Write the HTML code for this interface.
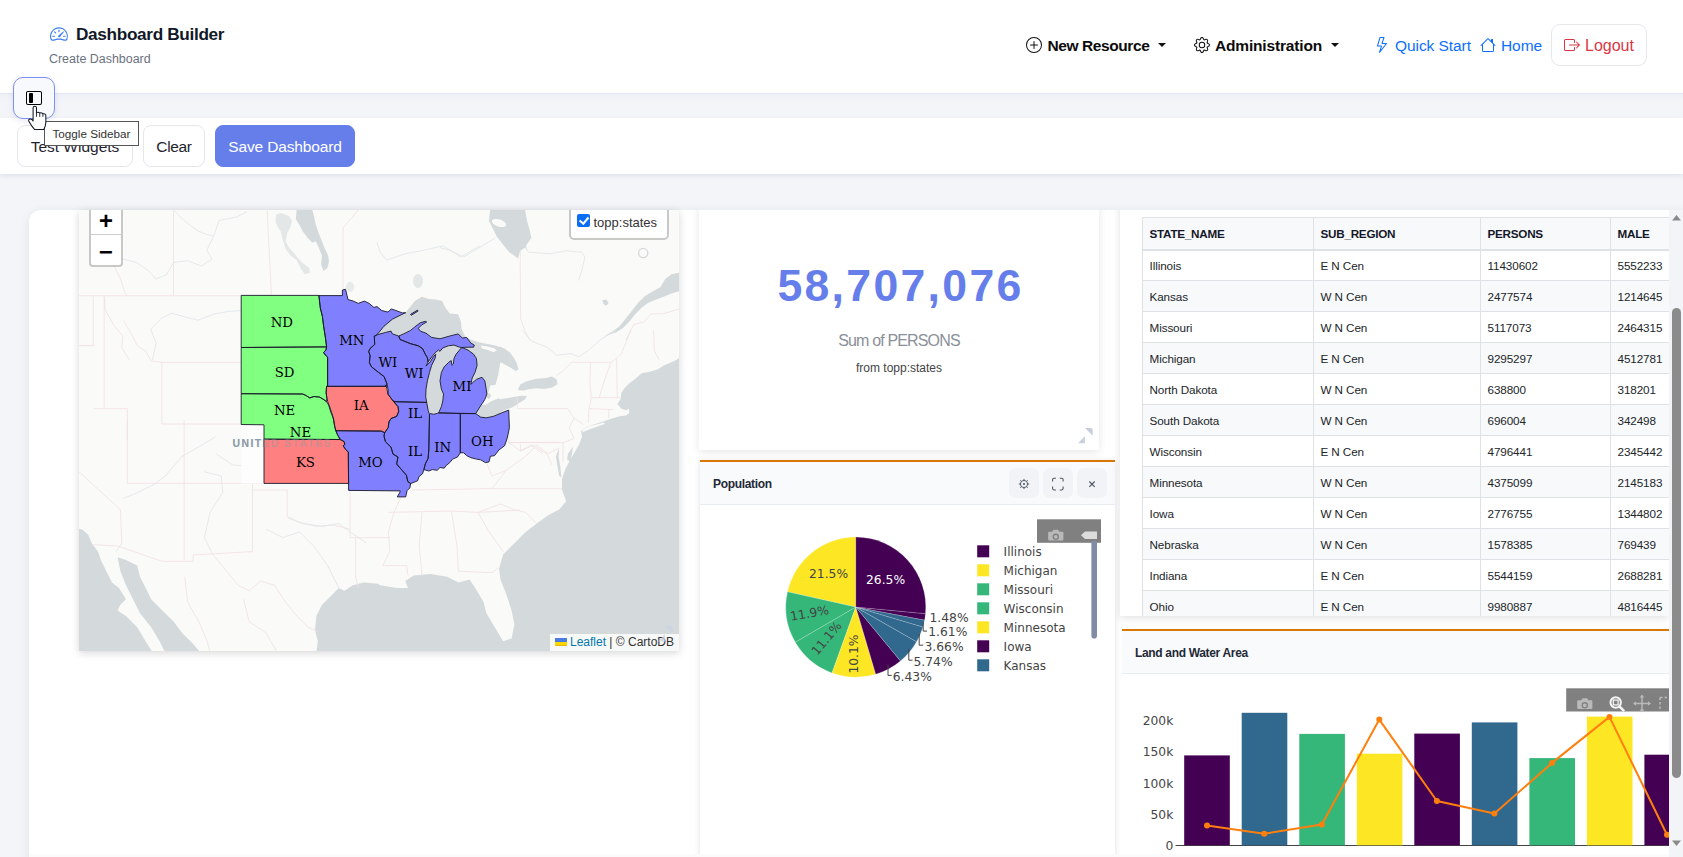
<!DOCTYPE html>
<html lang="en">
<head>
<meta charset="utf-8">
<title>Dashboard Builder</title>
<style>
*{box-sizing:border-box;margin:0;padding:0}
html,body{width:1683px;height:857px;overflow:hidden}
body{position:relative;background:#f4f5f9;font-family:"Liberation Sans",sans-serif;color:#212529;font-size:16px}
.abs{position:absolute}
svg{display:block;overflow:visible}
/* header */
#hdr{position:absolute;left:0;top:0;width:1683px;height:94px;background:#fff;border-bottom:1px solid #e3e7f5}
#band{position:absolute;left:0;top:94px;width:1683px;height:24px;background:linear-gradient(#eef0f6,#f4f5f9 8px)}
#title{position:absolute;left:76px;top:23px;font-size:17.2px;font-weight:700;color:#111827;white-space:nowrap;letter-spacing:-.33px;line-height:22px}
#subtitle{position:absolute;left:49px;top:51px;font-size:12.45px;color:#6b7280;white-space:nowrap;line-height:16px}
.nav{position:absolute;top:36px;line-height:20px;font-size:16px;white-space:nowrap}
.nav.b{font-weight:700;color:#0b0b0c;font-size:15.5px}
.nav.l{color:#0d6efd;font-size:15.5px;letter-spacing:-.07px}
.caret{position:absolute;top:43px;width:0;height:0;border-left:4px solid transparent;border-right:4px solid transparent;border-top:4.5px solid #111}
#logout{position:absolute;left:1551px;top:24px;width:96px;height:42px;border:1px solid #e5e7eb;border-radius:9px;background:#fff}
/* toggle */
#tog{position:absolute;left:13px;top:77px;width:42px;height:42px;border:1px solid #7d90f3;border-radius:10px;background:#f8f9fc;box-shadow:0 2px 6px rgba(60,70,120,.12)}
#tip{position:absolute;left:44px;top:121px;width:95px;height:25px;background:#fff;border:1px solid #555;font-size:11.7px;line-height:24px;padding-left:7.5px;color:#333;white-space:nowrap}
/* toolbar */
#tb{position:absolute;left:0;top:118px;width:1683px;height:56px;background:#fff;box-shadow:0 2px 5px rgba(30,40,80,.09)}
.btn{position:absolute;top:125px;height:42px;border:1px solid #e5e7eb;border-radius:8px;background:#fff;font-size:15.5px;line-height:42px;text-align:center;color:#1f2430;white-space:nowrap}
#save{left:215px;width:140px;background:#667eea;border-color:#667eea;color:#fff;letter-spacing:-.14px}
/* main container */
#main{position:absolute;left:29px;top:210px;width:1660px;height:660px;background:#fff;border-radius:12px 0 0 0;box-shadow:0 2px 12px rgba(0,0,0,.075)}
/*PCSS*/
#kpi{position:absolute;left:699px;top:200px;width:400px;height:250px;background:#fff;box-shadow:0 2px 8px rgba(0,0,0,.1);clip-path:inset(10px -20px -20px -20px)}
#kpinum{position:absolute;left:0;top:58px;width:400px;text-align:center;font-size:44.6px;font-weight:700;color:#667eea;letter-spacing:2.3px;line-height:56px;white-space:nowrap;text-indent:3px}
#kpilab{position:absolute;left:0;top:131px;width:400px;text-align:center;font-size:16px;color:#8a8f98;line-height:20px;white-space:nowrap;letter-spacing:-.85px}
#kpisrc{position:absolute;left:0;top:160px;width:400px;text-align:center;font-size:12px;color:#444;line-height:16px;white-space:nowrap}

#piep{position:absolute;left:700px;top:460px;width:415px;height:410px;background:#fff;border-top:2px solid #d97706;box-shadow:0 1px 6px rgba(0,0,0,.12)}
.phd{position:absolute;left:0;top:0;width:100%;height:43px;background:#f9fafb;border-bottom:1px solid #e9ecf0}
.phd span{position:absolute;left:13px;top:14px;font-size:12px;font-weight:700;color:#1f2937;line-height:16px;white-space:nowrap;letter-spacing:-.33px}
.pb{position:absolute;top:6px;width:30px;height:30px;border-radius:7px;background:#f1f3f6}

#tblp{position:absolute;left:1120px;top:200px;width:549px;height:416px;background:#fff;overflow:hidden;box-shadow:0 2px 8px rgba(0,0,0,.12);clip-path:inset(10px 0 -20px -20px)}
#tblp table{position:absolute;left:22px;top:17px;width:700px;border-collapse:collapse;table-layout:fixed;font-size:11.7px;color:#212529}
#tblp th{height:32px;background:#f8f9fa;border:1px solid #dee2e6;border-bottom:2px solid #dee2e6;text-align:left;padding:0 0 0 6.500px;font-weight:700;color:#15172a;letter-spacing:-.25px}
#tblp td{height:31px;border:1px solid #dee2e6;padding:1px 0 0 6.500px;white-space:nowrap;letter-spacing:-.1px}
#tblp tbody tr:nth-child(even) td{background:#f8f9fb}
#sb{position:absolute;left:1669px;top:210px;width:14px;height:647px;background:#f3f4f8}
#sb b{position:absolute;left:3px;top:98px;width:9px;height:470px;border-radius:5px;background:#8b8b8b}

#barp{position:absolute;left:1122px;top:629px;width:547px;height:240px;background:#fff;border-top:2px solid #d97706}
/*/PCSS*//*MAPCSS*/
#map{position:absolute;left:79px;top:210px;width:600px;height:441px;overflow:hidden;box-shadow:0 2px 8px rgba(0,0,0,.16);background:#fafaf8}
#mapshadow{position:absolute;left:79px;top:210px;width:600px;height:441px;box-shadow:0 2px 8px rgba(0,0,0,.2)}
.lf-zoom{position:absolute;left:10px;top:-8px;width:34px;height:65px;border:2px solid rgba(0,0,0,.2);border-radius:4px;background-clip:padding-box;background:#fff padding-box}
.lf-zoom span{position:absolute;left:0;width:30px;height:30px;text-align:center;font:bold 24px/37px "Liberation Mono",monospace;color:#000}
.lf-zoom i{position:absolute;left:0;top:30px;width:30px;height:1px;background:#ccc}
.lf-layers{position:absolute;left:490px;top:-6px;width:100px;height:36px;border:2px solid rgba(0,0,0,.2);border-radius:5px;background:#fff padding-box}
.lf-layers b{position:absolute;left:6px;top:8px;width:13px;height:13px;border-radius:2px;background:#0b6cf5}
.lf-layers b:after{content:"";position:absolute;left:4.2px;top:.6px;width:3.6px;height:7.4px;border:solid #fff;border-width:0 2px 2px 0;transform:rotate(40deg)}
.lf-layers span{position:absolute;left:22.5px;top:8.5px;font-size:13px;line-height:15px;color:#333;white-space:nowrap}
.lf-attr{position:absolute;right:0;bottom:0;height:17px;padding:0 5px;background:rgba(255,255,255,.8);font-size:12px;line-height:17px;color:#333;white-space:nowrap}
/*/MAPCSS*/</style>
</head>
<body>
<div id="hdr"></div>
<div id="band"></div>
<div id="title">Dashboard Builder</div>
<div id="subtitle">Create Dashboard</div>

<div class="nav b" style="left:1047.5px;letter-spacing:-.41px">New Resource</div>
<div class="caret" style="left:1158px"></div>
<div class="nav b" style="left:1215px;letter-spacing:-.17px">Administration</div>
<div class="caret" style="left:1331px"></div>
<div class="nav l" style="left:1395px">Quick Start</div>
<div class="nav l" style="left:1501px">Home</div>
<div id="logout"></div>
<div class="nav" style="left:1585px;color:#dc3545">Logout</div>


<svg class="abs" style="left:49.7px;top:25px" width="18" height="18" viewBox="0 0 16 16" fill="#3b7cf2"><path d="M8 4a.5.5 0 0 1 .5.5V6a.5.5 0 0 1-1 0V4.5A.5.5 0 0 1 8 4zM3.732 5.732a.5.5 0 0 1 .707 0l.915.914a.5.5 0 1 1-.708.708l-.914-.915a.5.5 0 0 1 0-.707zM2 10a.5.5 0 0 1 .5-.5h1.586a.5.5 0 0 1 0 1H2.5A.5.5 0 0 1 2 10zm9.5 0a.5.5 0 0 1 .5-.5h1.5a.5.5 0 0 1 0 1H12a.5.5 0 0 1-.5-.5zm.754-4.246a.389.389 0 0 0-.527-.02L7.547 9.31a.91.91 0 1 0 1.302 1.258l3.434-4.297a.389.389 0 0 0-.029-.518z"/><path fill-rule="evenodd" d="M0 10a8 8 0 1 1 15.547 2.661c-.442 1.253-1.845 1.602-2.932 1.25C11.309 13.488 9.475 13 8 13c-1.474 0-3.31.488-4.615.911-1.087.352-2.49.003-2.932-1.25A7.988 7.988 0 0 1 0 10zm8-7a7 7 0 0 0-6.603 9.329c.203.575.923.876 1.68.63C4.397 12.533 6.358 12 8 12s3.604.532 4.923.96c.757.245 1.477-.056 1.68-.631A7 7 0 0 0 8 3z"/></svg>
<svg class="abs" style="left:1026px;top:37px" width="16" height="16" viewBox="0 0 16 16" fill="#111"><path d="M8 15A7 7 0 1 1 8 1a7 7 0 0 1 0 14zm0 1A8 8 0 1 0 8 0a8 8 0 0 0 0 16z"/><path d="M8 4a.5.5 0 0 1 .5.5v3h3a.5.5 0 0 1 0 1h-3v3a.5.5 0 0 1-1 0v-3h-3a.5.5 0 0 1 0-1h3v-3A.5.5 0 0 1 8 4z"/></svg>
<svg class="abs" style="left:1194px;top:37px" width="16" height="16" viewBox="0 0 16 16" fill="#111"><path d="M8 4.754a3.246 3.246 0 1 0 0 6.492 3.246 3.246 0 0 0 0-6.492zM5.754 8a2.246 2.246 0 1 1 4.492 0 2.246 2.246 0 0 1-4.492 0z"/><path d="M9.796 1.343c-.527-1.79-3.065-1.79-3.592 0l-.094.319a.873.873 0 0 1-1.255.52l-.292-.16c-1.64-.892-3.433.902-2.54 2.541l.159.292a.873.873 0 0 1-.52 1.255l-.319.094c-1.79.527-1.79 3.065 0 3.592l.319.094a.873.873 0 0 1 .52 1.255l-.16.292c-.892 1.64.901 3.434 2.541 2.54l.292-.159a.873.873 0 0 1 1.255.52l.094.319c.527 1.79 3.065 1.79 3.592 0l.094-.319a.873.873 0 0 1 1.255-.52l.292.16c1.64.893 3.434-.902 2.54-2.541l-.159-.292a.873.873 0 0 1 .52-1.255l.319-.094c1.79-.527 1.79-3.065 0-3.592l-.319-.094a.873.873 0 0 1-.52-1.255l.16-.292c.893-1.64-.902-3.433-2.541-2.54l-.292.159a.873.873 0 0 1-1.255-.52l-.094-.319zm-2.633.283c.246-.835 1.428-.835 1.674 0l.094.319a1.873 1.873 0 0 0 2.693 1.115l.291-.16c.764-.415 1.6.42 1.184 1.185l-.159.292a1.873 1.873 0 0 0 1.116 2.692l.318.094c.835.246.835 1.428 0 1.674l-.319.094a1.873 1.873 0 0 0-1.115 2.693l.16.291c.415.764-.42 1.6-1.185 1.184l-.291-.159a1.873 1.873 0 0 0-2.693 1.116l-.094.318c-.246.835-1.428.835-1.674 0l-.094-.319a1.873 1.873 0 0 0-2.692-1.115l-.292.16c-.764.415-1.6-.42-1.184-1.185l.159-.291A1.873 1.873 0 0 0 1.945 8.93l-.319-.094c-.835-.246-.835-1.428 0-1.674l.319-.094A1.873 1.873 0 0 0 3.06 4.377l-.16-.292c-.415-.764.42-1.6 1.185-1.184l.292.159a1.873 1.873 0 0 0 2.692-1.115l.094-.319z"/></svg>
<svg class="abs" style="left:1374px;top:37px" width="16" height="16" viewBox="0 0 16 16" fill="#0d6efd"><path d="M5.52.359A.5.5 0 0 1 6 0h4a.5.5 0 0 1 .474.658L8.694 6H12.5a.5.5 0 0 1 .395.807l-7 9a.5.5 0 0 1-.873-.454L6.823 9.5H3.5a.5.5 0 0 1-.48-.641l2.5-8.5zM6.374 1 4.168 8.500H7.5a.5.5 0 0 1 .478.647L6.780 13.040 11.478 7H8a.5.5 0 0 1-.474-.658L9.306 1H6.374z"/></svg>
<svg class="abs" style="left:1480px;top:37px" width="16" height="16" viewBox="0 0 16 16" fill="#0d6efd"><path d="M8.707 1.5a1 1 0 0 0-1.414 0L.646 8.146a.5.5 0 0 0 .708.708L2 8.207V13.5A1.500 1.500 0 0 0 3.500 15h9a1.500 1.500 0 0 0 1.500-1.500V8.207l.646.647a.5.5 0 0 0 .708-.708L13 5.793V2.500a.5.5 0 0 0-.5-.5h-1a.5.5 0 0 0-.5.5v1.293L8.707 1.500ZM13 7.207V13.500a.5.5 0 0 1-.5.5h-9a.5.5 0 0 1-.5-.5V7.207l5-5 5 5Z"/></svg>
<svg class="abs" style="left:1564px;top:37px" width="16" height="16" viewBox="0 0 16 16" fill="#dc3545"><path fill-rule="evenodd" d="M10 12.5a.5.5 0 0 1-.5.5h-8a.5.5 0 0 1-.5-.5v-9a.5.5 0 0 1 .5-.5h8a.5.5 0 0 1 .5.5v2a.5.5 0 0 0 1 0v-2A1.500 1.500 0 0 0 9.500 2h-8A1.500 1.500 0 0 0 0 3.500v9A1.500 1.500 0 0 0 1.500 14h8a1.500 1.500 0 0 0 1.500-1.500v-2a.5.5 0 0 0-1 0v2z"/><path fill-rule="evenodd" d="M15.854 8.354a.5.5 0 0 0 0-.708l-3-3a.5.5 0 0 0-.708.708L14.293 7.500H5.500a.5.5 0 0 0 0 1h8.793l-2.147 2.146a.5.5 0 0 0 .708.708l3-3z"/></svg>
<div id="tb"></div>
<div class="btn" style="left:17px;width:116px">Test Widgets</div>
<div class="btn" style="left:143px;width:62px;letter-spacing:-.34px">Clear</div>
<div class="btn" id="save">Save Dashboard</div>

<div id="main"></div>

<!--MAP-->
<div id="map"><svg width="600" height="441" viewBox="79 210 600 441">
<rect x="79" y="210" width="600" height="441" fill="#fafaf8"/>
<path fill="#d4dadc" d="M490.4 208.1 488.8 220.7 492.8 228.6 496.7 236.5 503 244.4 509.3 252.2 514 255.4 518 258.5 520.3 250.7 525 247.5 528.2 252.2 525.8 245.9 531.3 238.1 529.8 230.2 527.4 222.3 525.8 214.4 525 208.1Z M680.9 272.4 671.5 274.3 665.2 279 660.5 286.9 652.6 291.6 644.7 296.3 638.4 302.6 632.1 310.5 625.8 318.4 619.5 326.3 613.2 331 603.8 336.5 616.4 332.2 622.7 328.3 629 321.9 635.3 314 641.6 307.7 647.9 303 655.7 299.8 663.6 296.7 671.5 293.5 680.9 290.8Z M296.7 208.1 295.9 219.2 299.8 225.5 303 231.8 307.7 238.1 312.4 242.8 315.6 241.2 318.7 247.5 321.9 255.4 321.1 264.8 323.5 271.1 327.4 268 329 261.7 328.2 255.4 325 249.1 321.9 241.2 318.7 233.3 315.6 223.9 314 216 311.7 208.1Z M374.9 336 377.7 333.9 384 326.2 392.4 319.2 405 312.9 409.9 307.3 414.8 301 421.8 296.8 428.8 298.9 435.8 299.6 442.1 301 445.6 308 449.8 313.6 458.2 314.3 461 322 461.7 329 465.2 336.7 468 338.8 462.4 338.1 458.2 333.9 449.8 336 440 338.8 431.6 337.4 426 333.2 420.4 331.1 418.3 328.3 421.8 324.8 426.7 322 425.3 321.3 420.4 322.7 414.8 326.9 410.6 330.4 403.6 333.9 398.7 336 392.4 333.9 391 331.1 385.4 332.5 377.7 334.9Z M428.1 361.9 431.6 357 435.8 352.1 438.6 350 440 351.4 442.8 347.9 448.4 345.8 454 345.1 459.6 347.2 461.7 347.5 459.6 350 456.1 354.2 454 358.4 453.3 364 451.9 365.4 451.2 360.5 448.4 362.6 444.2 366.8 441.4 372.4 440 380.8 441.4 389.2 443.5 394 442.8 401 441.4 406.6 438.6 411.5 433.7 414.3 430.2 413.6 428.1 410.1 426.7 402.4 425.7 396.8 426 389.2 427.4 380.8 429.5 372.4 431.6 365.4 435.1 358.4 435.8 354.2 433.7 356.3 430.2 361.9 426 366.1 423.9 367.5Z M466.6 337.4 470.8 339.5 476.4 341.6 482 343 490.4 344.4 496.1 345.8 504.5 348.6 510.1 352.8 514.3 358.4 517.1 364 518.5 369.6 515.7 371 511.5 368.2 507.3 365.4 503.8 363.3 500.3 362.6 499.6 366.8 498.2 375.2 495.4 385 490.4 385.6 488.3 392.6 486.9 394 486.2 389.2 484.8 380.8 482 377.3 476.4 379.4 470.8 384.3 472.2 378 475 372.4 477.1 365.4 476.4 358.4 473.6 354.2 468 350 461.7 347.5 468 347.2 473.6 347.2 474.3 345.1 470.8 343Z M475.7 413.6 479.2 408 482 404.9 486.2 404.5 491.8 401 498.9 398.2 500 399.3 509.4 397.7 520.5 395.8 526.8 396.1 525.2 399.3 518.9 403.2 512.6 407.2 506.3 409.5 500 411.9 508.7 410.1 501.7 412.9 493.2 416.4 486.2 417.8 480.6 417.1Z M486.2 394 489.7 393.3 491.1 396.1 489 398.9 486.5 397.5Z M518.1 389.1 520.5 384.3 526.8 381.2 536.2 378.8 545.7 378 552 376.5 556.7 379.6 557.5 384.3 552 387.5 544.1 389.1 536.2 388.3 529.9 389.1 523.6 390.6 518.1 390.3Z M680 357.6 673.2 361.5 663.8 365.4 657.5 369.4 649.6 371.7 641.7 373.3 635.4 378.8 629.1 383.5 624.4 388.3 621.3 393 620.5 399.3 617.3 404 621.3 408.7 626 410.3 628.8 408.7 629.4 413.1 626 415.4 619.7 416.3 610.2 419 603.9 421.3 594.5 424.2 586.6 426.9 581.1 430.8 581.9 437.1 579.5 443.4 575.6 450.5 572.4 456 570.4 462.3 576 450.8 570.4 459.2 564.8 470.4 562 478.8 562 490 566.2 501.2 559.2 509.6 548 515.2 536.8 523.6 525.6 532 514.4 543.2 503.2 554.4 499 568.4 500.4 579.6 506 593.6 511.6 610.4 514.4 624.4 511.6 638.4 503.2 641.2 494.8 627.2 486.4 613.2 483.6 602 475.2 588 469.6 579.6 458.4 582.4 447.2 576.8 430.4 574 413.6 575.4 405.2 581 408 588 396.8 588 380 585.2 378 583.8 364 582.4 352.8 585.2 344.4 590.8 338.8 588 330.4 596.4 322 604.8 316.4 616 315 630 317.8 641.2 316.4 652.4 700 660 700 380Z M75.6 527.8 82.6 529.7 88.2 534.8 91.8 543.2 98 551.6 100.8 560 106.4 571.2 112 582.4 119 588 126 599.2 120.4 604.8 117.6 610.4 126 616 137.2 627.2 145.6 641.2 152.6 652.4 75.6 652.4Z M117.6 557.2 126 560 137.2 565.6 140 576.8 145.6 588 151.2 599.2 162.4 610.4 173.6 621.6 182 632.8 193.2 644 200.2 652.4 165.2 652.4 159.6 641.2 151.2 627.2 140 613.2 133 599.2 126 585.2 120.4 571.2Z M602.2 300.3 606.1 299.5 608.5 302.6 606.9 305.5 603.8 304.5Z M500 346.5 504.7 348.9 509.4 353.6 514.2 359.9 517.3 366.2 514.2 369.4 509.4 367 504.7 364.6 500 361.5Z M573.2 446.6 568.1 453.6 567 459.2 570.4 462Z M559.2 448 555.8 456.4 557.5 466.2 559.2 476 561.4 477.4 560.3 466.2 558.6 456.4Z"/>
<ellipse cx="499" cy="223" rx="7.4" ry="3.6" transform="rotate(18 499 223)" fill="#fafaf8"/>
<path fill="#fafaf8" d="M480.6 345.5 487.6 346.5 494.6 348.6 496.8 350.7 493.2 352.1 487.6 350 482 348.6Z M581.9 430.2 588.2 426.4 596.1 424.5 603.9 422.6 604.7 423.9 597.6 426.4 589.8 429.2 583 432Z"/>
<path fill="#d4dadc" opacity=".6" d="M276.2 214.4 280.9 212.9 288.8 216 292 220.7 290.4 227 287.2 233.3 285.7 241.2 288.8 247.5 293.5 252.2 298.3 258.5 303 263.3 309.3 268 310.1 272.7 304.6 274.3 300.6 268 296.7 260.1 290.4 255.4 285.7 249.1 282.5 239.6 280.9 231.8 277.8 227 275.4 222.3Z"/>
<ellipse cx="418" cy="281" rx="5" ry="7" fill="#d4dadc" opacity=".6"/>
<ellipse cx="350" cy="287" rx="4" ry="5" fill="#d4dadc" opacity=".5"/>
<circle cx="643.2" cy="253" r="4.6" fill="none" stroke="#d4dadc" stroke-width="1.3"/>
<path fill="none" stroke="#f1e0e2" stroke-width=".8" d="M79 295.7 241 295.7 M173.5 210 173.5 295.7 M267.1 210 271.5 295.7 M114 266 121 280 124.5 292.2 127.1 295.7 M104.4 296.6 105.2 309.7 114 325.5 122.7 336 121.9 348.2 129.7 360 M93.3 296.6 93.3 345.6 79 345.6 M151.2 361 161.8 362.4 241.1 362.4 M161.8 362.4 161.8 424 241.1 424 M93.8 345.6 79 345.6 M93.8 408.6 127.4 408.6 127.4 439.9 M104.2 296.6 104.2 408.6 M358.4 209.8 343 228 343 289.6 M151.2 361 145.6 351.2 137.2 345.6 130.2 331.6 123.2 320.4 M127.4 420 127.4 483.3 264.6 483.3 M184.2 420 184.2 560 M252.5 483.3 252.5 551.6 193.2 554.9 193.2 561.4 162.4 561.4 117.6 546 92.4 544.6 M252.5 490 287.2 490 287.2 516.6 299.6 522.2 316.4 526.4 333.2 525 350 529.2 M79 471.8 120.4 509.6 121.8 543.2 116.2 551.6 M212.8 554.4 226.8 571.2 238 585.2 249.2 590.8 260.4 581 274.4 585.2 285.6 602 296.8 616 308 627.2 317.8 631.4 M350 490 350 537.6 355.6 537.6 355.6 576.8 358.4 588 M355.6 537.6 390 537.6 M184.8 576.8 187.6 602 198.8 621.6 207.2 641.2 210 652.4 M243.6 599.2 249.2 621.6 266 632.8 277.2 652.4 M412.2 490 492 488.6 562 488.6 M388.4 512.4 451.4 511 478 512.4 520 510.1 M422 512.4 419.2 546 422 575.4 M451.4 511 457 546 458.4 571.2 492 572.6 497.6 568.4 M478 512.4 489.2 532 503.2 551.6 M478 512.4 500.4 504 514.4 509.6 525.6 512.4 536.8 523.6 M401 497 394 512.4 388.4 532 389.8 551.6 382.8 565.6 406.6 565.6 408 575.4 M492 488.6 506 470.4 525.6 456.4 536.8 445.2 548 453.6 559.2 448 M486.4 462 492 476 506 470.4 M508.8 442.4 559.2 442.4 M508.8 420 508.8 442.4 520 450.8 531.2 445.2 542.4 453.6 M517.3 408.7 567.7 408.7 574 418.2 583.5 424.5 M517.3 396.1 517.3 408.7 M508.7 442.6 563 442.6 574 438.7 569.3 427.6 574 418.2 M571.7 362.3 611 362.3 616.5 358.3 621.3 353.6 626 342.6 630.7 330 M571.7 362.3 563 370.9 556.7 375.7 M590.6 362.3 589.8 382 591.3 397.7 589 408.7 588.2 422.9 M591.3 397.7 619.7 397.7 M589 408.7 613.4 409.5 M608.7 409.5 608.7 418.2 M616.5 358.3 617.3 397.7 M611 362.3 603.9 382 599.2 397.7 M653.5 330 654.3 350.5 659.1 359.9 M520.5 444.2 520.5 451.3 533.1 445 547.2 454.4 552 465 M563 442.6 563 462.3 M520.3 250.7 520.6 318.4 525 331 529.8 340 M625.8 340 633.7 324.7 644.7 321.5 651 313.7 663.6 313.7 679.1 308.9"/>
<path fill="none" stroke="#dfe5e8" stroke-width=".8" d="M122.7 259 136.7 262.5 149 271.2 156 279.1 166.5 274.7 173.5 262.5 187.5 260.7 201.5 266 212 259 206.7 250.2 213.7 236.2 219 220.5 236.5 217 247 211.7 M241 310.6 227.7 311.5 213.7 314.1 198 320.2 184 316.7 171.7 313.2 161.2 318.5 150.7 329 156 343 152.5 360 M173.5 210 184 220.5 198 231 206.7 234.5 213.7 236.2 M215.6 436.8 201.6 445.2 182 456.4 165.2 476 154 484.4 137.2 492.8 123.2 498.4 M204.4 471.8 221.2 476 222.6 492.8 210 512.4 204.4 537.6 212.8 554.4 M266 529.2 282.8 537.6 299.6 532 313.6 546 327.6 565.6 338.8 588 M288.4 518 302.4 523.6 322 526.4 338.8 523.6 350 532 366.8 543.2 M215.6 453.6 232.4 464.8 260.4 467.6 M440 247.5 451 250.7 463.6 257 479.4 247.5 495.1 238.1 M528.2 252.2 550.2 253.8 566 250.7 581.7 252.2 584.9 257 581.7 271.1 578.6 280.6 M377 242.8 380.2 252.2 386.5 260.1 405.4 253.8 421.1 250.7 443.1 245.9 460.5 257 480 245.9 M522 330 531.5 341 547.2 347.3 556.7 355.2 570.9 353.6 578.7 356.8 588.2 350.5 600.8 339.4 616.5 330"/>
<rect x="241.2" y="424.8" width="23" height="58.6" fill="#fdfdfd"/>
<text x="232.6" y="447.3" font-family="Liberation Sans,sans-serif" font-weight="700" font-size="10.4" letter-spacing="1.02" fill="#8d9ca8" textLength="98.8" lengthAdjust="spacing">UNITED STATES</text>
<path d="M241.2 295.4 318.9 295.4 320.3 308 322.4 316.4 323.6 326.2 325.2 336 326.6 346.9 241.2 347.5Z" fill="#80ff80"/>
<path d="M241.2 347.5 326.6 346.9 325.9 350 323.6 352.5 325.2 354.9 327.6 357 327.6 386.4 326.6 386.3 326.1 392.6 326.9 398.2 326.6 401.7 323.8 399.6 319.6 397.1 314 396.5 309.8 397.9 306.3 395.7 302.8 394 241.2 393.7Z" fill="#80ff80"/>
<path d="M241.2 393.7 302.8 394 306.3 395.7 309.8 397.9 314 396.5 319.6 397.1 323.8 399.6 326.6 401.7 328.7 405.2 330.8 412.2 333.6 419.2 335 427.6 337.1 433.9 339.9 439.5 264 439.2 264 424.8 241.2 424.5Z" fill="#80ff80"/>
<path d="M264 439.2 339.9 439.5 344.1 441.6 344.8 444.4 343.2 445.8 345.5 449.3 348.3 452.1 348.6 483.4 264 483.4Z" fill="#ff8080"/>
<path d="M326.6 386.3 326.1 392.6 326.9 398.2 328 402.4 330.1 408 332.9 416.4 334.3 424.8 335.7 430.7 381.3 431.1 384.7 432.9 388.2 427.6 388.9 422 391 418.5 396.6 416.4 398.7 411.5 398 406.6 393.1 401 387.9 394 386.8 388.4 385.7 384.9 386.2 386.3Z" fill="#ff8080"/>
<path d="M335.7 430.7 337.8 435.3 340.6 439.5 344.1 441.6 344.8 444.4 343.2 445.8 345.5 449.3 348.3 452.1 348.6 490.4 400.1 490.9 400.1 492 397.3 496.9 405.7 496.9 407.1 490.6 409.9 487.8 410.6 483.6 407.8 481.5 406.4 475.2 401.5 469.6 396.6 464 398 457 393.1 454.2 391 447.2 385.4 441.6 384 436 384.7 432.5 381.3 431.1Z" fill="#8080ff"/>
<path d="M318.7 295.6 342.4 295.6 342.4 290 345.5 289.3 347.1 295.6 347.9 299.5 353.4 301.1 358.1 303.4 364.4 301.1 369.1 303.4 373.9 307.4 377 306.6 381.7 310.5 388 312.1 391.2 308.9 395.9 310.5 402.2 312.9 405.7 312.7 405 312.9 392.4 319.2 384 326.2 377.7 333.9 374.9 336 374.3 336 374.7 344.4 370.1 348.6 368.7 351.4 370.1 355.6 369.4 362.6 371.5 366.8 378.5 372.4 384.1 376.6 386.9 383.6 386.2 386.3 327.6 386.4 327.6 357 325.2 354.9 323.6 352.5 325.9 350 326.6 346.9 325.2 336 323.6 326.2 322.4 316.4 320.3 308 318.9 295.4Z" fill="#8080ff"/>
<path d="M374.9 336 377.7 334.6 385.4 332.5 391 331.1 392.4 333.9 398.7 336 400.1 339.5 410.6 343.7 418.3 345.8 422.5 348.6 425.3 354.2 427.4 357.7 428.1 361.9 426 366.1 430.2 361.9 433.7 356.3 435.8 354.2 435.1 358.4 431.6 365.4 429.5 372.4 427.4 380.8 426 389.2 425.7 396.8 426.7 402.4 395.2 401.7 393.1 401 387.9 394 388.3 390.6 386.9 383.6 384.1 376.6 378.5 372.4 371.5 366.8 369.4 362.6 370.1 355.6 368.7 351.4 370.1 348.6 374.7 344.4 374.3 336Z" fill="#8080ff"/>
<path d="M398.7 336 403.6 333.9 410.6 330.4 414.8 326.9 420.4 322.7 425.3 321.3 426.7 322 421.8 324.8 418.3 328.3 420.4 331.1 426 333.2 431.6 337.4 440 338.8 449.8 336 458.2 333.9 462.4 338.1 466.6 337.4 470.8 343 474.3 345.1 473.6 347.2 468 347.2 461.7 347.5 459.6 347.2 454 345.1 448.4 345.8 442.8 347.9 440 351.4 438.6 350 435.8 352.1 431.6 357 428.1 361.9 427.4 357.7 425.3 354.2 422.5 348.6 418.3 345.8 410.6 343.7 400.1 339.5Z" fill="#8080ff"/>
<path d="M461.7 347.5 468 350 473.6 354.2 476.4 358.4 477.1 365.4 475 372.4 472.2 378 470.8 384.3 476.4 379.4 482 377.3 484.8 380.8 486.2 389.2 486.9 394 484.8 399.6 482 403.8 479.2 408 475.7 413.6 438.6 412.9 441.4 406.6 442.8 401 443.5 394 441.4 389.2 440 380.8 441.4 372.4 444.2 366.8 448.4 362.6 451.2 360.5 451.9 365.4 453.3 364 454 358.4 456.1 354.2 459.6 350Z" fill="#8080ff"/>
<path d="M410.6 314.3 417.6 310.1 418 311.1 411.3 315.3Z" fill="#8080ff"/>
<path d="M395.2 401.7 426.7 402.4 428.1 410.1 429.5 414.3 428.8 450 428.1 458.4 425.3 464 423.9 469.6 422.5 473.8 419 476.6 417.6 480.8 410.6 483.6 410.6 483.6 407.8 481.5 406.4 475.2 401.5 469.6 396.6 464 398 457 393.1 454.2 391 447.2 385.4 441.6 384 436 384.7 432.5 388.2 427.6 388.9 422 391 418.5 396.6 416.4 398.7 411.5 398 406.6 393.1 401Z" fill="#8080ff"/>
<path d="M429.5 414.3 430.2 413.6 433.7 414.3 438.6 412.9 460.3 413.6 460.3 452.8 457.5 457 452.6 459.1 449.8 462.6 446.3 465.4 444.2 468.2 440 467.5 437.2 470.3 432.3 469.6 428.8 471 423.9 469.6 425.3 464 428.1 458.4 428.8 450Z" fill="#8080ff"/>
<path d="M460.3 413.6 475.7 413.6 480.6 417.1 486.2 417.8 493.2 416.4 501.7 412.9 508.7 410.1 509.4 427.6 508 434.6 506.6 440.2 504.5 445.8 498.9 450 494.6 455.6 490.4 456.3 489 461.9 485.5 462.6 480.6 459.8 476.4 459.1 470.8 457.7 466.6 455.6 463.8 452.8 460.3 452.8Z" fill="#8080ff"/>
<g fill="none" stroke="#1a1a2a" stroke-width=".9" stroke-linejoin="round"><path d="M241.2 295.4 318.9 295.4 320.3 308 322.4 316.4 323.6 326.2 325.2 336 326.6 346.9 241.2 347.5Z"/><path d="M241.2 347.5 326.6 346.9 325.9 350 323.6 352.5 325.2 354.9 327.6 357 327.6 386.4 326.6 386.3 326.1 392.6 326.9 398.2 326.6 401.7 323.8 399.6 319.6 397.1 314 396.5 309.8 397.9 306.3 395.7 302.8 394 241.2 393.7Z"/><path d="M241.2 393.7 302.8 394 306.3 395.7 309.8 397.9 314 396.5 319.6 397.1 323.8 399.6 326.6 401.7 328.7 405.2 330.8 412.2 333.6 419.2 335 427.6 337.1 433.9 339.9 439.5 264 439.2 264 424.8 241.2 424.5Z"/><path d="M264 439.2 339.9 439.5 344.1 441.6 344.8 444.4 343.2 445.8 345.5 449.3 348.3 452.1 348.6 483.4 264 483.4Z"/><path d="M326.6 386.3 326.1 392.6 326.9 398.2 328 402.4 330.1 408 332.9 416.4 334.3 424.8 335.7 430.7 381.3 431.1 384.7 432.9 388.2 427.6 388.9 422 391 418.5 396.6 416.4 398.7 411.5 398 406.6 393.1 401 387.9 394 386.8 388.4 385.7 384.9 386.2 386.3Z"/><path d="M335.7 430.7 337.8 435.3 340.6 439.5 344.1 441.6 344.8 444.4 343.2 445.8 345.5 449.3 348.3 452.1 348.6 490.4 400.1 490.9 400.1 492 397.3 496.9 405.7 496.9 407.1 490.6 409.9 487.8 410.6 483.6 407.8 481.5 406.4 475.2 401.5 469.6 396.6 464 398 457 393.1 454.2 391 447.2 385.4 441.6 384 436 384.7 432.5 381.3 431.1Z"/><path d="M318.7 295.6 342.4 295.6 342.4 290 345.5 289.3 347.1 295.6 347.9 299.5 353.4 301.1 358.1 303.4 364.4 301.1 369.1 303.4 373.9 307.4 377 306.6 381.7 310.5 388 312.1 391.2 308.9 395.9 310.5 402.2 312.9 405.7 312.7 405 312.9 392.4 319.2 384 326.2 377.7 333.9 374.9 336 374.3 336 374.7 344.4 370.1 348.6 368.7 351.4 370.1 355.6 369.4 362.6 371.5 366.8 378.5 372.4 384.1 376.6 386.9 383.6 386.2 386.3 327.6 386.4 327.6 357 325.2 354.9 323.6 352.5 325.9 350 326.6 346.9 325.2 336 323.6 326.2 322.4 316.4 320.3 308 318.9 295.4Z"/><path d="M374.9 336 377.7 334.6 385.4 332.5 391 331.1 392.4 333.9 398.7 336 400.1 339.5 410.6 343.7 418.3 345.8 422.5 348.6 425.3 354.2 427.4 357.7 428.1 361.9 426 366.1 430.2 361.9 433.7 356.3 435.8 354.2 435.1 358.4 431.6 365.4 429.5 372.4 427.4 380.8 426 389.2 425.7 396.8 426.7 402.4 395.2 401.7 393.1 401 387.9 394 388.3 390.6 386.9 383.6 384.1 376.6 378.5 372.4 371.5 366.8 369.4 362.6 370.1 355.6 368.7 351.4 370.1 348.6 374.7 344.4 374.3 336Z"/><path d="M398.7 336 403.6 333.9 410.6 330.4 414.8 326.9 420.4 322.7 425.3 321.3 426.7 322 421.8 324.8 418.3 328.3 420.4 331.1 426 333.2 431.6 337.4 440 338.8 449.8 336 458.2 333.9 462.4 338.1 466.6 337.4 470.8 343 474.3 345.1 473.6 347.2 468 347.2 461.7 347.5 459.6 347.2 454 345.1 448.4 345.8 442.8 347.9 440 351.4 438.6 350 435.8 352.1 431.6 357 428.1 361.9 427.4 357.7 425.3 354.2 422.5 348.6 418.3 345.8 410.6 343.7 400.1 339.5Z"/><path d="M461.7 347.5 468 350 473.6 354.2 476.4 358.4 477.1 365.4 475 372.4 472.2 378 470.8 384.3 476.4 379.4 482 377.3 484.8 380.8 486.2 389.2 486.9 394 484.8 399.6 482 403.8 479.2 408 475.7 413.6 438.6 412.9 441.4 406.6 442.8 401 443.5 394 441.4 389.2 440 380.8 441.4 372.4 444.2 366.8 448.4 362.6 451.2 360.5 451.9 365.4 453.3 364 454 358.4 456.1 354.2 459.6 350Z"/><path d="M410.6 314.3 417.6 310.1 418 311.1 411.3 315.3Z"/><path d="M395.2 401.7 426.7 402.4 428.1 410.1 429.5 414.3 428.8 450 428.1 458.4 425.3 464 423.9 469.6 422.5 473.8 419 476.6 417.6 480.8 410.6 483.6 410.6 483.6 407.8 481.5 406.4 475.2 401.5 469.6 396.6 464 398 457 393.1 454.2 391 447.2 385.4 441.6 384 436 384.7 432.5 388.2 427.6 388.9 422 391 418.5 396.6 416.4 398.7 411.5 398 406.6 393.1 401Z"/><path d="M429.5 414.3 430.2 413.6 433.7 414.3 438.6 412.9 460.3 413.6 460.3 452.8 457.5 457 452.6 459.1 449.8 462.6 446.3 465.4 444.2 468.2 440 467.5 437.2 470.3 432.3 469.6 428.8 471 423.9 469.6 425.3 464 428.1 458.4 428.8 450Z"/><path d="M460.3 413.6 475.7 413.6 480.6 417.1 486.2 417.8 493.2 416.4 501.7 412.9 508.7 410.1 509.4 427.6 508 434.6 506.6 440.2 504.5 445.8 498.9 450 494.6 455.6 490.4 456.3 489 461.9 485.5 462.6 480.6 459.8 476.4 459.1 470.8 457.7 466.6 455.6 463.8 452.8 460.3 452.8Z"/></g>
<g opacity=".42"><text x="232.6" y="447.3" font-family="Liberation Sans,sans-serif" font-weight="700" font-size="10.4" letter-spacing="1.02" fill="#8d9ca8" textLength="98.8" lengthAdjust="spacing">UNITED STATES</text></g>
<g font-family="DejaVu Serif,serif" font-size="13.3" text-anchor="middle" fill="#000"><text x="281.8" y="326.9">ND</text><text x="351.8" y="345.1">MN</text><text x="284.6" y="376.6">SD</text><text x="387.9" y="366.8">WI</text><text x="414.1" y="378">WI</text><text x="462" y="390.6">MI</text><text x="284.6" y="414.7">NE</text><text x="300.5" y="437.4">NE</text><text x="361.3" y="409.7">IA</text><text x="305.4" y="466.8">KS</text><text x="370.4" y="466.8">MO</text><text x="415" y="418.1">IL</text><text x="415" y="455.6">IL</text><text x="442.8" y="451.7">IN</text><text x="482.3" y="445.5">OH</text></g>
</svg>
<div class="lf-zoom"><span style="top:0">+</span><i></i><span style="top:31px">&#8722;</span></div>
<div class="lf-layers"><b></b><span>topp:states</span></div>
<div class="lf-attr"><svg width="12" height="8" viewBox="0 0 12 8" style="display:inline-block;vertical-align:baseline;margin-right:3px"><path fill="#4C7BE1" d="M0 0h12v4H0z"/><path fill="#FFD500" d="M0 4h12v3H0z"/><path fill="#E0BC00" d="M0 7h12v1H0z"/></svg><span style="color:#0078a8">Leaflet</span> <span>|</span> &#169; CartoDB</div>
<svg class="abs" style="left:578px;top:415px" width="16" height="17" viewBox="657 625 16 17" fill="#c9d3e3" fill-opacity=".75"><path d="M664.5 626h6.500a2 2 0 0 1 2 2v5.300z"/><path d="M657.900 641.400l7.100-7.100v7.100z"/></svg>
</div>
<!--/MAP-->
<!--KPI-->
<div id="kpi">
<div id="kpinum">58,707,076</div>
<div id="kpilab">Sum of PERSONS</div>
<div id="kpisrc">from topp:states</div>
<svg class="abs" style="left:379px;top:228px" width="16" height="16" viewBox="1078 428 16 16" fill="#c7cfde"><path d="M1085 428h5.7a2 2 0 0 1 2 2v5.800z"/><path d="M1078 443.300l6.900-7v7z"/></svg>
</div>
<!--/KPI-->
<!--PIE-->
<div id="piep"><div class="phd"><span>Population</span>
<i class="pb" style="left:309px"></i><i class="pb" style="left:343px"></i><i class="pb" style="left:377px"></i></div></div>
<svg class="abs" style="left:700px;top:462px" width="415" height="395" viewBox="700 462 415 395" font-family="DejaVu Sans,Verdana,sans-serif" font-size="12.3">
<g stroke="#fff" stroke-width=".35" stroke-opacity=".55"><path d="M855.8 607.1L855.80 537.10A70 70 0 0 0 787.49 591.81Z" fill="#fde725"/><path d="M855.8 607.1L787.49 591.81A70 70 0 0 0 795.31 642.33Z" fill="#35b779"/><path d="M855.8 607.1L795.31 642.33A70 70 0 0 0 832.05 672.95Z" fill="#35b779"/><path d="M855.8 607.1L832.05 672.95A70 70 0 0 0 875.71 674.21Z" fill="#fde725"/><path d="M855.8 607.1L875.71 674.21A70 70 0 0 0 900.48 660.99Z" fill="#440154"/><path d="M855.8 607.1L900.48 660.99A70 70 0 0 0 916.62 641.76Z" fill="#31688e"/><path d="M855.8 607.1L916.62 641.76A70 70 0 0 0 922.92 626.98Z" fill="#31688e"/><path d="M855.8 607.1L922.92 626.98A70 70 0 0 0 924.58 620.11Z" fill="#31688e"/><path d="M855.8 607.1L924.58 620.11A70 70 0 0 0 925.49 613.66Z" fill="#440154"/><path d="M855.8 607.1L925.49 613.66A70 70 0 0 0 855.80 537.10Z" fill="#440154"/></g>
<text x="885.6" y="583.6" fill="#fff" text-anchor="middle">26.5%</text><text x="828.6" y="578.3" fill="#444" text-anchor="middle">21.5%</text><text x="809.5" y="617.5" fill="#444" text-anchor="middle" transform="rotate(-10 809.5 613.2)">11.9%</text><text x="826.5" y="642.6" fill="#444" text-anchor="middle" transform="rotate(-50 826.5 638.3)">11.1%</text><text x="853.2" y="658.4" fill="#444" text-anchor="middle" transform="rotate(-90 853.2 654)">10.1%</text><text x="929.5" y="621.5" fill="#444">1.48%</text><text x="928.3" y="636.2" fill="#444">1.61%</text><text x="924.5" y="650.7" fill="#444">3.66%</text><text x="913.5" y="665.8" fill="#444">5.74%</text><text x="892.8" y="680.5" fill="#444">6.43%</text><path fill="none" stroke="#444" stroke-width="1" d="M923.2 622.5v8.600h3.800M919.2 634v11.200h4M908.800 649v11.200h3.700M888 664.600v10.800h3.700"/><rect x="977.2" y="545.3" width="12" height="12" fill="#440154"/><text x="1003.6" y="555.7" fill="#444" font-size="12">Illinois</text><rect x="977.2" y="564.3" width="12" height="12" fill="#fde725"/><text x="1003.6" y="574.7" fill="#444" font-size="12">Michigan</text><rect x="977.2" y="583.3" width="12" height="12" fill="#35b779"/><text x="1003.6" y="593.7" fill="#444" font-size="12">Missouri</text><rect x="977.2" y="602.3" width="12" height="12" fill="#35b779"/><text x="1003.6" y="612.7" fill="#444" font-size="12">Wisconsin</text><rect x="977.2" y="621.3" width="12" height="12" fill="#fde725"/><text x="1003.6" y="631.7" fill="#444" font-size="12">Minnesota</text><rect x="977.2" y="640.3" width="12" height="12" fill="#440154"/><text x="1003.6" y="650.7" fill="#444" font-size="12">Iowa</text><rect x="977.2" y="659.3" width="12" height="12" fill="#31688e"/><text x="1003.6" y="669.7" fill="#444" font-size="12">Kansas</text>
<rect x="1037" y="519.300" width="64" height="23.500" fill="#808080"/>
<rect x="1091.400" y="540.500" width="5.600" height="98" rx="2.800" fill="#808ba6"/>
<g fill="#b9b9b9"><path d="M1049.200 531.800h3l1.300-2h4.600l1.300 2h3a1 1 0 0 1 1 1v6.800a1 1 0 0 1-1 1h-13.200a1 1 0 0 1-1-1v-6.800a1 1 0 0 1 1-1zm6.600 1.800a3.200 3.200 0 1 0 0 6.400 3.200 3.200 0 0 0 0-6.400zm0 1.300a1.900 1.900 0 1 1 0 3.800 1.900 1.900 0 0 1 0-3.800z" fill-rule="evenodd"/><path d="M1081 535.300l4-3.800h12v7.600h-12z" fill="#dcdcdc"/></g>
<g fill="none" stroke="#4b5563" stroke-width=".95"><circle cx="1024" cy="484" r="3.600"/><path d="M1024 478.800v1.400M1024 487.800v1.400M1018.800 484h1.400M1027.800 484h1.400M1020.300 480.300l1 1M1026.700 486.700l1 1M1020.300 487.700l1-1M1026.700 481.300l1-1"/><circle cx="1024" cy="484" r=".9" fill="#374151" stroke="none"/>
<path d="M1052.600 481.600v-2a1.300 1.300 0 0 1 1.300-1.300h2M1059.800 478.300h2a1.300 1.300 0 0 1 1.300 1.300v2M1063.100 486.600v2a1.300 1.300 0 0 1-1.300 1.300h-2M1055.900 489.900h-2a1.300 1.300 0 0 1-1.300-1.300v-2" stroke-width="1.050"/>
<path d="M1089.300 481.500l5.400 5.400M1094.700 481.500l-5.400 5.400" stroke-width="1.100"/></g>
</svg>
<!--/PIE-->
<!--TABLE-->
<div id="tblp"><table><thead><tr><th style="width:171px">STATE_NAME</th><th style="width:167px">SUB_REGION</th><th style="width:130px">PERSONS</th><th style="width:110px">MALE</th><th></th></tr></thead><tbody><tr><td>Illinois</td><td>E N Cen</td><td>11430602</td><td>5552233</td><td></td></tr><tr><td>Kansas</td><td>W N Cen</td><td>2477574</td><td>1214645</td><td></td></tr><tr><td>Missouri</td><td>W N Cen</td><td>5117073</td><td>2464315</td><td></td></tr><tr><td>Michigan</td><td>E N Cen</td><td>9295297</td><td>4512781</td><td></td></tr><tr><td>North Dakota</td><td>W N Cen</td><td>638800</td><td>318201</td><td></td></tr><tr><td>South Dakota</td><td>W N Cen</td><td>696004</td><td>342498</td><td></td></tr><tr><td>Wisconsin</td><td>E N Cen</td><td>4796441</td><td>2345442</td><td></td></tr><tr><td>Minnesota</td><td>W N Cen</td><td>4375099</td><td>2145183</td><td></td></tr><tr><td>Iowa</td><td>W N Cen</td><td>2776755</td><td>1344802</td><td></td></tr><tr><td>Nebraska</td><td>W N Cen</td><td>1578385</td><td>769439</td><td></td></tr><tr><td>Indiana</td><td>E N Cen</td><td>5544159</td><td>2688281</td><td></td></tr><tr><td>Ohio</td><td>E N Cen</td><td>9980887</td><td>4816445</td><td></td></tr></tbody></table></div>
<div id="sb"><b></b><svg class="abs" style="left:3px;top:5px" width="9" height="6" viewBox="0 0 9 6"><path d="M0 5.500L4.500 0 9 5.500z" fill="#8a8a8a"/></svg><svg class="abs" style="left:3px;top:630px" width="9" height="6" viewBox="0 0 9 6"><path d="M0 .5L4.500 6 9 .5z" fill="#8a8a8a"/></svg></div>
<!--/TABLE-->
<!--BAR-->
<div id="barp"><div class="phd"><span>Land and Water Area</span></div></div>
<svg class="abs" style="left:1122px;top:674px" width="547" height="183" viewBox="1122 674 547 183" font-family="DejaVu Sans,Verdana,sans-serif" font-size="12.3">
<defs><clipPath id="bc"><rect x="1122" y="674" width="547" height="180"/></clipPath></defs>
<g clip-path="url(#bc)"><path d="M1175.500 845.500H1669" stroke="#444" stroke-width="1"/>
<rect x="1184.2" y="755.4" width="45.600" height="89.9" fill="#440154"/><rect x="1241.7" y="712.8" width="45.600" height="132.5" fill="#31688e"/><rect x="1299.3" y="733.9" width="45.600" height="111.4" fill="#35b779"/><rect x="1356.8" y="753.7" width="45.600" height="91.6" fill="#fde725"/><rect x="1414.3" y="733.6" width="45.600" height="111.7" fill="#440154"/><rect x="1471.8" y="722.4" width="45.600" height="122.9" fill="#31688e"/><rect x="1529.4" y="758.1" width="45.600" height="87.2" fill="#35b779"/><rect x="1586.9" y="716.6" width="45.600" height="128.7" fill="#fde725"/><rect x="1644.4" y="754.7" width="45.600" height="90.6" fill="#440154"/>
<path fill="none" stroke="#ff7f0e" stroke-width="2" stroke-linejoin="round" d="M1207 825.5 L1264.2 833.7 L1321.8 824.5 L1379.3 719.6 L1436.9 801 L1494.4 813.6 L1552 762.9 L1609.5 716.9 L1667 834.7"/><circle cx="1207" cy="825.5" r="3" fill="#ff7f0e"/><circle cx="1264.2" cy="833.7" r="3" fill="#ff7f0e"/><circle cx="1321.8" cy="824.5" r="3" fill="#ff7f0e"/><circle cx="1379.3" cy="719.6" r="3" fill="#ff7f0e"/><circle cx="1436.9" cy="801" r="3" fill="#ff7f0e"/><circle cx="1494.4" cy="813.6" r="3" fill="#ff7f0e"/><circle cx="1552" cy="762.9" r="3" fill="#ff7f0e"/><circle cx="1609.5" cy="716.9" r="3" fill="#ff7f0e"/><circle cx="1667" cy="834.7" r="3" fill="#ff7f0e"/><text x="1173.300" y="725.2" text-anchor="end" fill="#444">200k</text><text x="1173.300" y="756.1" text-anchor="end" fill="#444">150k</text><text x="1173.300" y="787.5" text-anchor="end" fill="#444">100k</text><text x="1173.300" y="818.8" text-anchor="end" fill="#444">50k</text><text x="1173.300" y="849.8" text-anchor="end" fill="#444">0</text>
<g fill="#444" font-size="12"><text transform="translate(1205.0 871) rotate(-90)" text-anchor="end" x="13">Illinois</text><text transform="translate(1262.5 871) rotate(-90)" text-anchor="end" x="13">Kansas</text><text transform="translate(1320.1 871) rotate(-90)" text-anchor="end" x="13">Missouri</text><text transform="translate(1377.6 871) rotate(-90)" text-anchor="end" x="13">Michigan</text><text transform="translate(1435.1 871) rotate(-90)" text-anchor="end" x="13">North Dakota</text><text transform="translate(1492.7 871) rotate(-90)" text-anchor="end" x="13">South Dakota</text><text transform="translate(1550.2 871) rotate(-90)" text-anchor="end" x="13">Wisconsin</text><text transform="translate(1607.7 871) rotate(-90)" text-anchor="end" x="13">Minnesota</text></g>
<rect x="1566.200" y="688.300" width="103" height="23.200" fill="#808080"/>
<g fill="#b9b9b9"><path d="M1578.200 700.300h3l1.300-2h4.600l1.300 2h3a1 1 0 0 1 1 1v6.800a1 1 0 0 1-1 1h-13.200a1 1 0 0 1-1-1v-6.800a1 1 0 0 1 1-1zm6.600 1.800a3.200 3.200 0 1 0 0 6.400 3.200 3.200 0 0 0 0-6.400zm0 1.300a1.900 1.900 0 1 1 0 3.800 1.900 1.900 0 0 1 0-3.800z" fill-rule="evenodd"/></g>
<g fill="none" stroke="#f4f4f4" stroke-width="2"><circle cx="1615.700" cy="702.500" r="5.200"/><path d="M1619.600 706.600l4.600 4.600" stroke-width="2.600"/><rect x="1613.300" y="700.100" width="4.800" height="4.800" stroke-width="1.300"/></g>
<g stroke="#b9b9b9" stroke-width="1.500" fill="#b9b9b9"><path d="M1634.500 703.500h15M1642 696v15" fill="none"/><path d="M1642 694.500l2.300 3h-4.600zM1642 712.500l2.300-3h-4.600zM1633 703.500l3-2.300v4.600zM1651 703.500l-3-2.300v4.600z" stroke="none"/><path d="M1660 697.500h9M1660 697.500v13" fill="none" stroke-dasharray="2.500 2"/></g>
</g></svg>
<!--/BAR-->

<div id="botstrip" style="position:absolute;left:29px;top:854px;width:1640px;height:3px;background:#fbfbfc"></div>
<div id="tog"></div>
<svg class="abs" style="left:26px;top:90px" width="16" height="16" viewBox="0 0 16 16" fill="#000"><path d="M14 2a1 1 0 0 1 1 1v10a1 1 0 0 1-1 1H2a1 1 0 0 1-1-1V3a1 1 0 0 1 1-1h12zM2 1a2 2 0 0 0-2 2v10a2 2 0 0 0 2 2h12a2 2 0 0 0 2-2V3a2 2 0 0 0-2-2H2z"/><path d="M3 4a1 1 0 0 1 1-1h2a1 1 0 0 1 1 1v8a1 1 0 0 1-1 1H4a1 1 0 0 1-1-1V4z"/></svg>
<div id="tip">Toggle Sidebar</div>
<svg class="abs" style="left:10px;top:74px" width="60" height="60" viewBox="0 0 857 857"><path d="M330 482 Q330 462 354 462 Q378 462 378 482 L378 552 Q402 538 425 556 Q450 546 470 570 Q512 560 512 604 L512 690 Q512 745 482 792 L350 792 Q300 735 268 672 Q260 650 285 644 Q312 640 330 672 Z" fill="#fff" stroke="#111827" stroke-width="15" stroke-linejoin="round"/><path d="M378 552V612M425 560V612M470 574V612" stroke="#111827" stroke-width="13" fill="none"/></svg>
</body>
</html>
